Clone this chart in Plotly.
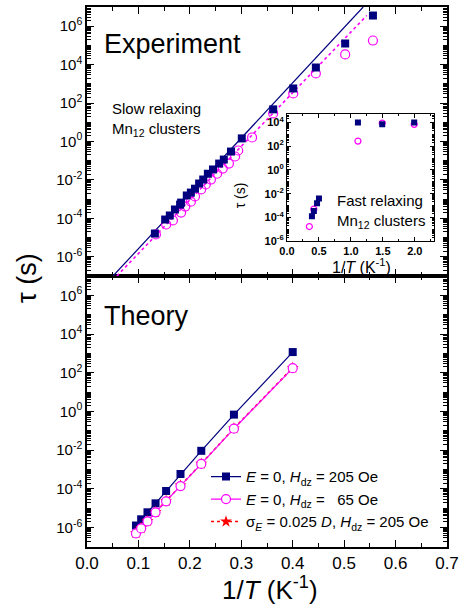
import plotly.graph_objects as go

# ---------------- data ----------------
# Experiment (top panel), slow relaxing clusters
exp_sq_x = [0.132, 0.152, 0.161, 0.171, 0.181, 0.183, 0.194, 0.202, 0.210, 0.218, 0.226,
            0.235, 0.245, 0.257, 0.266, 0.280, 0.301, 0.362, 0.401, 0.445, 0.502, 0.556]
exp_sq_tau = [1.62e-5, 8.7e-5, 1.41e-4, 2.9e-4, 5.2e-4, 6.6e-4, 1.55e-3, 2.2e-3, 3.5e-3, 6.5e-3,
              1.05e-2, 2.1e-2, 3.5e-2, 7.1e-2, 0.115, 0.30, 1.45, 47, 575, 7.1e3, 1.26e5, 3.6e6]
exp_ci_x = [0.134, 0.154, 0.167, 0.183, 0.191, 0.202, 0.210, 0.222, 0.231, 0.241, 0.253,
            0.264, 0.276, 0.288, 0.294, 0.321, 0.362, 0.401, 0.445, 0.502, 0.556]
exp_ci_tau = [1.45e-5, 4.8e-5, 7.8e-5, 2.0e-4, 4.1e-4, 7.4e-4, 1.38e-3, 3.2e-3, 5.8e-3, 1.05e-2,
              2.1e-2, 3.9e-2, 7.1e-2, 0.166, 0.34, 1.62, 29, 316, 3.5e3, 3.4e4, 1.8e5]
# Arrhenius fit lines (end points)
fit_sq_x = [0.0506, 0.537]
fit_sq_tau = [1e-7, 1e7]
fit_ci_x = [0.058, 0.544]
fit_ci_tau = [1e-7, 3.6e6]

# Inset: fast relaxing clusters
ins_sq_x = [0.39, 0.42, 0.47, 0.50, 1.11, 1.49, 1.99]
ins_sq_tau = [1.26e-4, 3.5e-4, 1.6e-3, 4.0e-3, 1.0e4, 7.1e3, 1.0e4]
ins_ci_x = [0.35, 0.42, 1.11, 1.49, 1.99]
ins_ci_tau = [1.7e-5, 5.0e-4, 2.7e2, 9.0e3, 7.0e3]

# Theory (bottom panel)
th_x = [0.0952, 0.1053, 0.1176, 0.1333, 0.1538, 0.1818, 0.2222, 0.2857, 0.4]
th_sq_tau = [1.29e-6, 2.7e-6, 6.2e-6, 1.8e-5, 7.8e-5, 5.9e-4, 9.3e-3, 0.69, 1175]
th_ci_tau = [5.0e-7, 9.1e-7, 2.1e-6, 6.2e-6, 2.3e-5, 1.4e-4, 1.95e-3, 0.129, 174]
th_st_tau = [5.2e-7, 9.5e-7, 2.2e-6, 6.4e-6, 2.4e-5, 1.5e-4, 2.0e-3, 0.135, 180]

legend_names = [
    "<i>E</i> = 0, <i>H</i><sub>dz</sub> = 205 Oe",
    "<i>E</i> = 0, <i>H</i><sub>dz</sub> = \u200765 Oe",
    "\u03c3<sub><i>E</i></sub> = 0.025 <i>D</i>, <i>H</i><sub>dz</sub> = 205 Oe",
]

main_ytickvals = [1e-6, 1e-4, 1e-2, 1e0, 1e2, 1e4, 1e6]
main_yticktext = ["10<sup>-6</sup>", "10<sup>-4</sup>", "10<sup>-2</sup>", "10<sup>0</sup>",
                  "10<sup>2</sup>", "10<sup>4</sup>", "10<sup>6</sup>"]
ins_ytickvals = [1e-6, 1e-4, 1e-2, 1e0, 1e2, 1e4]
ins_yticktext = ["10<sup>-6</sup>", "10<sup>-4</sup>", "10<sup>-2</sup>", "10<sup>0</sup>",
                 "10<sup>2</sup>", "10<sup>4</sup>"]

# ---------------- style ----------------
NAVY = "#00007f"
MAG = "#ff00ff"
RED = "#ff0000"
FONT = "Liberation Sans, Arial, sans-serif"

W, H = 464, 615
ML, MR, MT, MB = 87, 17, 5, 68
PW, PH = W - ML - MR, H - MT - MB


def px_x(px):
    return (px - ML) / PW


def px_y(py):
    return (H - MB - py) / PH


split = px_y(275)


def minor_vals(lo, hi):
    vals = []
    for n in range(lo, hi):
        for k in range(1, 10):
            vals.append(k * 10.0 ** n)
    return vals


fig = go.Figure()

# top panel
fig.add_trace(go.Scatter(x=fit_sq_x, y=fit_sq_tau, mode="lines", line=dict(color=NAVY, width=1.2),
                         xaxis="x2", yaxis="y2", showlegend=False))
fig.add_trace(go.Scatter(x=fit_ci_x, y=fit_ci_tau, mode="lines", line=dict(color=MAG, width=1.6, dash="dot"),
                         xaxis="x2", yaxis="y2", showlegend=False))
fig.add_trace(go.Scatter(x=exp_ci_x, y=exp_ci_tau, mode="markers",
                         marker=dict(symbol="circle-open", size=9, color=MAG, line=dict(width=1.2)),
                         xaxis="x2", yaxis="y2", showlegend=False))
fig.add_trace(go.Scatter(x=exp_sq_x, y=exp_sq_tau, mode="markers",
                         marker=dict(symbol="square", size=8, color=NAVY),
                         xaxis="x2", yaxis="y2", showlegend=False))

# inset
fig.add_trace(go.Scatter(x=ins_ci_x, y=ins_ci_tau, mode="markers",
                         marker=dict(symbol="circle-open", size=6, color=MAG, line=dict(width=1.2)),
                         xaxis="x3", yaxis="y3", showlegend=False))
fig.add_trace(go.Scatter(x=ins_sq_x, y=ins_sq_tau, mode="markers",
                         marker=dict(symbol="square", size=6, color=NAVY),
                         xaxis="x3", yaxis="y3", showlegend=False))

# bottom panel
fig.add_trace(go.Scatter(x=th_x, y=th_sq_tau, mode="lines+markers", name=legend_names[0],
                         line=dict(color=NAVY, width=1.2),
                         marker=dict(symbol="square", size=8, color=NAVY), legendrank=1))
fig.add_trace(go.Scatter(x=th_x, y=th_st_tau, mode="lines+markers", name=legend_names[2],
                         line=dict(color=RED, width=1.6, dash="dot"),
                         marker=dict(symbol="star", size=9, color=RED, line=dict(width=0)), legendrank=3))
fig.add_trace(go.Scatter(x=th_x, y=th_ci_tau, mode="lines+markers", name=legend_names[1],
                         line=dict(color=MAG, width=1.2),
                         marker=dict(symbol="circle", size=9, color="white", line=dict(color=MAG, width=1.2)),
                         legendrank=2))

axis_common = dict(showline=True, linecolor="black", linewidth=1.5, mirror="ticks",
                   ticks="inside", tickcolor="black", ticklen=7, tickwidth=1.2,
                   showgrid=False, zeroline=False)

xmain = dict(axis_common, range=[0, 0.7], dtick=0.1, tick0=0,
             minor=dict(dtick=0.05, ticks="inside", ticklen=4, tickcolor="black", tickwidth=1.2))
ymain = dict(axis_common, type="log", range=[-7, 7], tickmode="array",
             tickvals=main_ytickvals, ticktext=main_yticktext,
             tickfont=dict(size=15, family=FONT, color="black"),
             minor=dict(tickmode="array", tickvals=minor_vals(-7, 7), ticks="inside",
                        ticklen=4, tickcolor="black", tickwidth=1))

fig.update_layout(
    width=W, height=H,
    margin=dict(l=ML, r=MR, t=MT, b=MB),
    paper_bgcolor="white", plot_bgcolor="white",
    font=dict(family=FONT, color="black", size=15),
    xaxis=dict(xmain, domain=[0, 1], anchor="y", tickformat=".1f", ticklabelstandoff=0,
               tickfont=dict(size=17, family=FONT, color="black")),
    yaxis=dict(ymain, domain=[0, split], anchor="x"),
    xaxis2=dict(xmain, domain=[0, 1], anchor="y2", matches="x", showticklabels=False),
    yaxis2=dict(ymain, domain=[split, 1], anchor="x2"),
    xaxis3=dict(axis_common, domain=[px_x(287), px_x(434)], anchor="y3", range=[0, 2.3],
                dtick=0.5, tick0=0, tickformat=".1f", ticklen=4, linewidth=1.2,
                ticklabelstandoff=0,
                tickfont=dict(size=11, family=FONT, color="black", weight="bold"),
                minor=dict(dtick=0.25, ticks="inside", ticklen=2, tickcolor="black")),
    yaxis3=dict(axis_common, type="log", domain=[px_y(240), px_y(112)], anchor="x3",
                range=[-6, 4.75], tickmode="array", tickvals=ins_ytickvals, ticktext=ins_yticktext,
                ticklen=4, linewidth=1.2,
                tickfont=dict(size=11, family=FONT, color="black", weight="bold"),
                minor=dict(tickmode="array", tickvals=minor_vals(-6, 5), ticks="inside",
                           ticklen=2, tickcolor="black", tickwidth=1)),
    legend=dict(x=px_x(206), y=px_y(460), xanchor="left", yanchor="top",
                bgcolor="rgba(0,0,0,0)", font=dict(size=15, family=FONT, color="black"),
                traceorder="normal", itemwidth=30, tracegroupgap=0),
    showlegend=True,
)

annotations = [
    dict(text="Experiment", x=0.029, y=5.05, xref="x2", yref="y2", xanchor="left", yanchor="middle",
         showarrow=False, font=dict(size=27)),
    dict(text="Slow relaxing<br>Mn<sub>12</sub> clusters", x=0.045, y=1.15, xref="x2", yref="y2",
         xanchor="left", yanchor="middle", align="left", showarrow=False, font=dict(size=15)),
    dict(text="Theory", x=0.029, y=4.95, xref="x", yref="y", xanchor="left", yanchor="middle",
         showarrow=False, font=dict(size=27)),
    dict(text="Fast relaxing<br>Mn<sub>12</sub> clusters", x=0.75, y=-3.5, xref="x3", yref="y3",
         xanchor="left", yanchor="middle", align="left", showarrow=False, font=dict(size=15)),
    dict(text="\u03c4 (s)", x=px_x(27), y=px_y(277), xref="paper", yref="paper", textangle=-90,
         xanchor="center", yanchor="middle", showarrow=False, font=dict(size=27)),
    dict(text="1/<i>T</i> (K<sup>-1</sup>)", x=px_x(270), y=px_y(589), xref="paper", yref="paper",
         xanchor="center", yanchor="middle", showarrow=False, font=dict(size=26)),
    dict(text="1/<i>T</i> (K<sup>-1</sup>)", x=px_x(361), y=px_y(265), xref="paper", yref="paper",
         xanchor="center", yanchor="middle", showarrow=False, font=dict(size=16)),
    dict(text="\u03c4 (s)", x=px_x(240), y=px_y(194), xref="paper", yref="paper", textangle=-90,
         xanchor="center", yanchor="middle", showarrow=False, font=dict(size=14)),
]
fig.update_layout(annotations=annotations)

fig.write_html("out.html")
